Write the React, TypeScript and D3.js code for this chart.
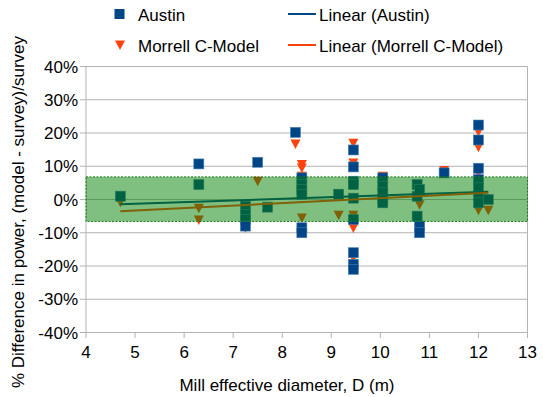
import React from "react";
import * as d3 from "d3";

// Austin model: mill diameter (m) and % difference
const austinD = [4.7, 6.3, 6.3, 7.25, 7.25, 7.25, 7.25, 7.5, 7.7, 8.27, 8.4, 8.4, 8.4, 8.4, 8.4, 8.4, 9.15,
  9.45, 9.45, 9.45, 9.45, 9.45, 9.45, 9.45, 9.45, 9.45, 10.05, 10.05, 10.05, 10.05, 10.05,
  10.75, 10.75, 10.75, 10.8, 10.8, 10.8, 11.3, 12, 12, 12, 12, 12, 12, 12, 12.2];
const austinV = [1.0, 10.7, 4.5, -2, -4.5, -6, -8, 11.2, -2.3, 20.2, 6.5, 4.5, 3, 1.5, -8.5, -10, 1.6,
  14.9, 9.8, 5.5, 4.5, 0.4, -6, -16, -19.5, -21, 6.5, 4, 2, 0, -1,
  4.5, 1, -5, 3, -8, -10, 8, 22.4, 17.9, 9.4, 6, 3.5, 1, -1, 0];

// Morrell C-Model
const morrellD = [4.7, 6.3, 6.3, 7.25, 7.5, 7.7, 8.27, 8.4, 8.4, 8.4, 8.4, 9.15,
  9.45, 9.45, 9.45, 9.45, 9.45, 9.45, 10.05, 10.05, 10.8, 11.3, 12, 12, 12, 12, 12.2];
const morrellV = [-0.8, -2.6, -6.2, -8.5, 5.5, -2.5, 16.7, 10.5, 9.5, 7, -5.6, -4.7,
  16.9, 11, 4.4, -4.7, -8.6, -17.5, 7, 2, -1.6, 8.7, 20.4, 15.7, 7.9, -3.2, -3.2];

// linear trend lines, end values
const trendD = [4.7, 12.2];
const austinTrend = [-1.45, 2.35];
const morrellTrend = [-3.5, 2.0];

const xTicks = [4, 5, 6, 7, 8, 9, 10, 11, 12, 13];
const yTicks = [-40, -30, -20, -10, 0, 10, 20, 30, 40];
const bandRange = [-6.6, 6.8];

const BLUE = "#004586";
const ORANGE = "#ff420e";
const GRID = "#b3b3b3";
const FONT = "Liberation Sans, Arial, sans-serif";
const FS = 17;

export default function App() {
  const width = 543;
  const height = 397;
  const x = d3.scaleLinear().domain([4, 13]).range([86, 527.5]);
  const y = d3.scaleLinear().domain([-40, 40]).range([332.5, 66.5]);
  const line = d3.line<number>().x((_, i) => x(trendD[i])).y((d) => y(d));

  const tri = (cx: number, cy: number) =>
    `M${cx - 5},${cy - 4.5}L${cx + 5},${cy - 4.5}L${cx},${cy + 5}Z`;

  return (
    <svg width={width} height={height} style={{ position: "absolute", left: 0, top: 0, fontFamily: FONT }}>
      <rect width={width} height={height} fill="#fff" />
      {yTicks.map((t) => (
        <g key={t}>
          <line x1={80} x2={527.5} y1={y(t)} y2={y(t)} stroke={GRID} strokeWidth={1} />
          <text x={78} y={y(t) + 6} textAnchor="end" fontSize={FS} fill="#000">{t}%</text>
        </g>
      ))}
      <line x1={86} x2={86} y1={66.5} y2={332.5} stroke={GRID} />
      <line x1={527.5} x2={527.5} y1={66.5} y2={332.5} stroke={GRID} />
      {xTicks.map((t) => (
        <g key={t}>
          <line x1={x(t)} x2={x(t)} y1={332.5} y2={338} stroke={GRID} />
          <text x={x(t)} y={357.5} textAnchor="middle" fontSize={FS} fill="#000">{t}</text>
        </g>
      ))}
      {morrellD.map((d, i) => (
        <path key={"m" + i} d={tri(x(d), y(morrellV[i]))} fill={ORANGE} />
      ))}
      {austinD.map((d, i) => (
        <rect key={"a" + i} x={x(d) - 5} y={y(austinV[i]) - 5} width={10} height={10} fill={BLUE}
          stroke="#4d7fb0" strokeWidth={0.6} />
      ))}
      <path d={line(austinTrend)!} stroke={BLUE} strokeWidth={2} fill="none" />
      <path d={line(morrellTrend)!} stroke={ORANGE} strokeWidth={2} fill="none" />
      <rect x={86} y={y(bandRange[1])} width={527.5 - 86} height={y(bandRange[0]) - y(bandRange[1])}
        fill="#008000" fillOpacity={0.5} stroke="#1f7a1f" strokeWidth={1} strokeDasharray="2,1.5" />
      <text transform={`translate(23.5,212) rotate(-90)`} textAnchor="middle" fontSize={FS}
        fill="#000">% Difference in power, (model - survey)/survey</text>
      <text x={287} y={391} textAnchor="middle" fontSize={FS} fill="#000">Mill effective diameter, D (m)</text>
      {/* legend */}
      <rect x={114.5} y={9} width={10} height={10} fill={BLUE} />
      <text x={138} y={20.5} fontSize={FS} fill="#000">Austin</text>
      <path d={tri(120, 45)} fill={ORANGE} />
      <text x={138} y={51.5} fontSize={FS} fill="#000">Morrell C-Model</text>
      <line x1={288} x2={316} y1={14} y2={14} stroke={BLUE} strokeWidth={2} />
      <text x={319} y={20.5} fontSize={FS} fill="#000">Linear (Austin)</text>
      <line x1={288} x2={316} y1={45} y2={45} stroke={ORANGE} strokeWidth={2} />
      <text x={319} y={51.5} fontSize={FS} fill="#000">Linear (Morrell C-Model)</text>
    </svg>
  );
}
